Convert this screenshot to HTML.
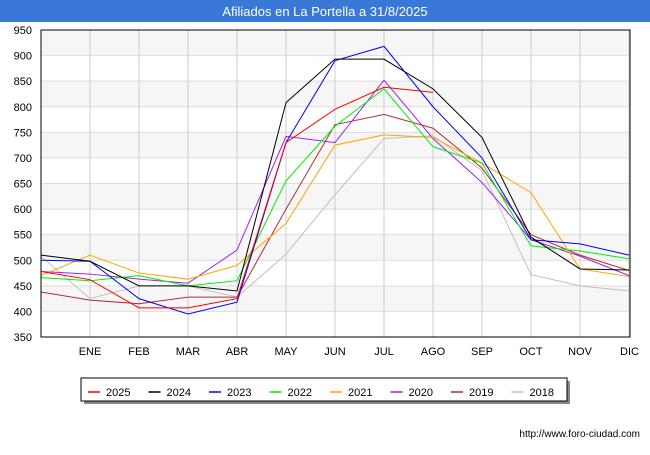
<!DOCTYPE html>
<html><head><meta charset="utf-8"><style>
body{margin:0;width:650px;height:450px;background:#fff;font-family:"Liberation Sans",sans-serif;overflow:hidden}
</style></head><body>
<svg width="650" height="450" xmlns="http://www.w3.org/2000/svg">
<rect x="0" y="0" width="650" height="22" fill="#3a78d8"/>
<text x="325" y="16" text-anchor="middle" fill="#fff" font-size="13">Afiliados en La Portella a 31/8/2025</text>
<g id="bands"></g><g id="grid"></g><g id="lines"></g>
<rect x="41" y="30" width="589" height="307" fill="none" stroke="#000" stroke-width="1"/>
<g id="axes"></g>
<rect x="84" y="381" width="486" height="23" fill="#888"/>
<rect x="81" y="378" width="486" height="23" fill="#fff" stroke="#000"/>
<g id="legend"></g>
<text x="640" y="437" text-anchor="end" font-size="10" fill="#000">http://www.foro-ciudad.com</text>
</svg>
<script>
const months=["","ENE","FEB","MAR","ABR","MAY","JUN","JUL","AGO","SEP","OCT","NOV","DIC"];
const yTicks=[350,400,450,500,550,600,650,700,750,800,850,900,950];
const seriesNames=["2025","2024","2023","2022","2021","2020","2019","2018"];
const seriesColors=["#ff0000","#000000","#0000ff","#00ee00","#ffa500","#a020f0","#b03030","#c0c0c0"];
const s2025=[478,462,407,407,425,730,795,838,828];
const s2024=[510,498,450,450,440,808,893,893,835,740,545,483,481];
const s2023=[500,498,425,395,418,730,890,918,800,700,540,532,510];
const s2022=[466,460,470,450,460,655,762,835,722,690,528,518,503];
const s2021=[470,510,475,463,490,572,725,745,740,690,632,483,468];
const s2020=[478,473,463,455,520,742,730,852,738,652,540,508,470];
const s2019=[438,422,415,428,428,600,765,785,758,680,550,510,480];
const s2018=[508,425,450,450,428,512,628,738,743,675,472,450,440];
const allSeries=[s2025,s2024,s2023,s2022,s2021,s2020,s2019,s2018];
const NS="http://www.w3.org/2000/svg";
const x0=41,x1=629,yTop=30,yBot=337,vMin=350,vMax=950;
const X=i=>x0+i*(x1-x0)/12;
const Y=v=>yBot-(v-vMin)*(yBot-yTop)/(vMax-vMin);
function mk(tag,attrs,parent){const e=document.createElementNS(NS,tag);for(const k in attrs)e.setAttribute(k,attrs[k]);document.getElementById(parent).appendChild(e);return e;}
for(let i=0;i<yTicks.length-1;i++){if(i%2==1){const r=mk('rect',{x:x0,y:Y(yTicks[i+1]),width:x1-x0,height:Y(yTicks[i])-Y(yTicks[i+1]),fill:'#f6f6f6'},'bands');

}}
yTicks.forEach(v=>{const l=mk('line',{x1:x0,x2:x1,y1:Y(v),y2:Y(v),stroke:'#dddddd'},'grid');


const t=mk('text',{x:32,y:Y(v)+4,'text-anchor':'end','font-size':'11',fill:'#000'},'axes');t.textContent=v;

});
months.forEach((m,i)=>{if(i==0)return;const l=mk('line',{x1:X(i),x2:X(i),y1:yTop,y2:yBot,stroke:'#cccccc'},'grid');


const t=mk('text',{x:X(i),y:355,'text-anchor':i==12?'end':'middle','font-size':'11',fill:'#000'},'axes');t.textContent=m;
if(i==12)t.setAttribute('x',X(i)+10);

});
for(let s=allSeries.length-1;s>=0;s--){const pts=allSeries[s].map((v,i)=>X(i)+','+Y(v)).join(' ');
const p=mk('polyline',{points:pts,fill:'none',stroke:seriesColors[s],'stroke-width':'1'},'lines');

}
seriesNames.forEach((n,i)=>{const lx=88+i*60.5;
const l=mk('line',{x1:lx,x2:lx+12,y1:392,y2:392,stroke:seriesColors[i],'stroke-width':'1.5'},'legend');


const t=mk('text',{x:lx+18,y:396,'font-size':'11',fill:'#000'},'legend');t.textContent=n;

});
</script>
</body></html>
